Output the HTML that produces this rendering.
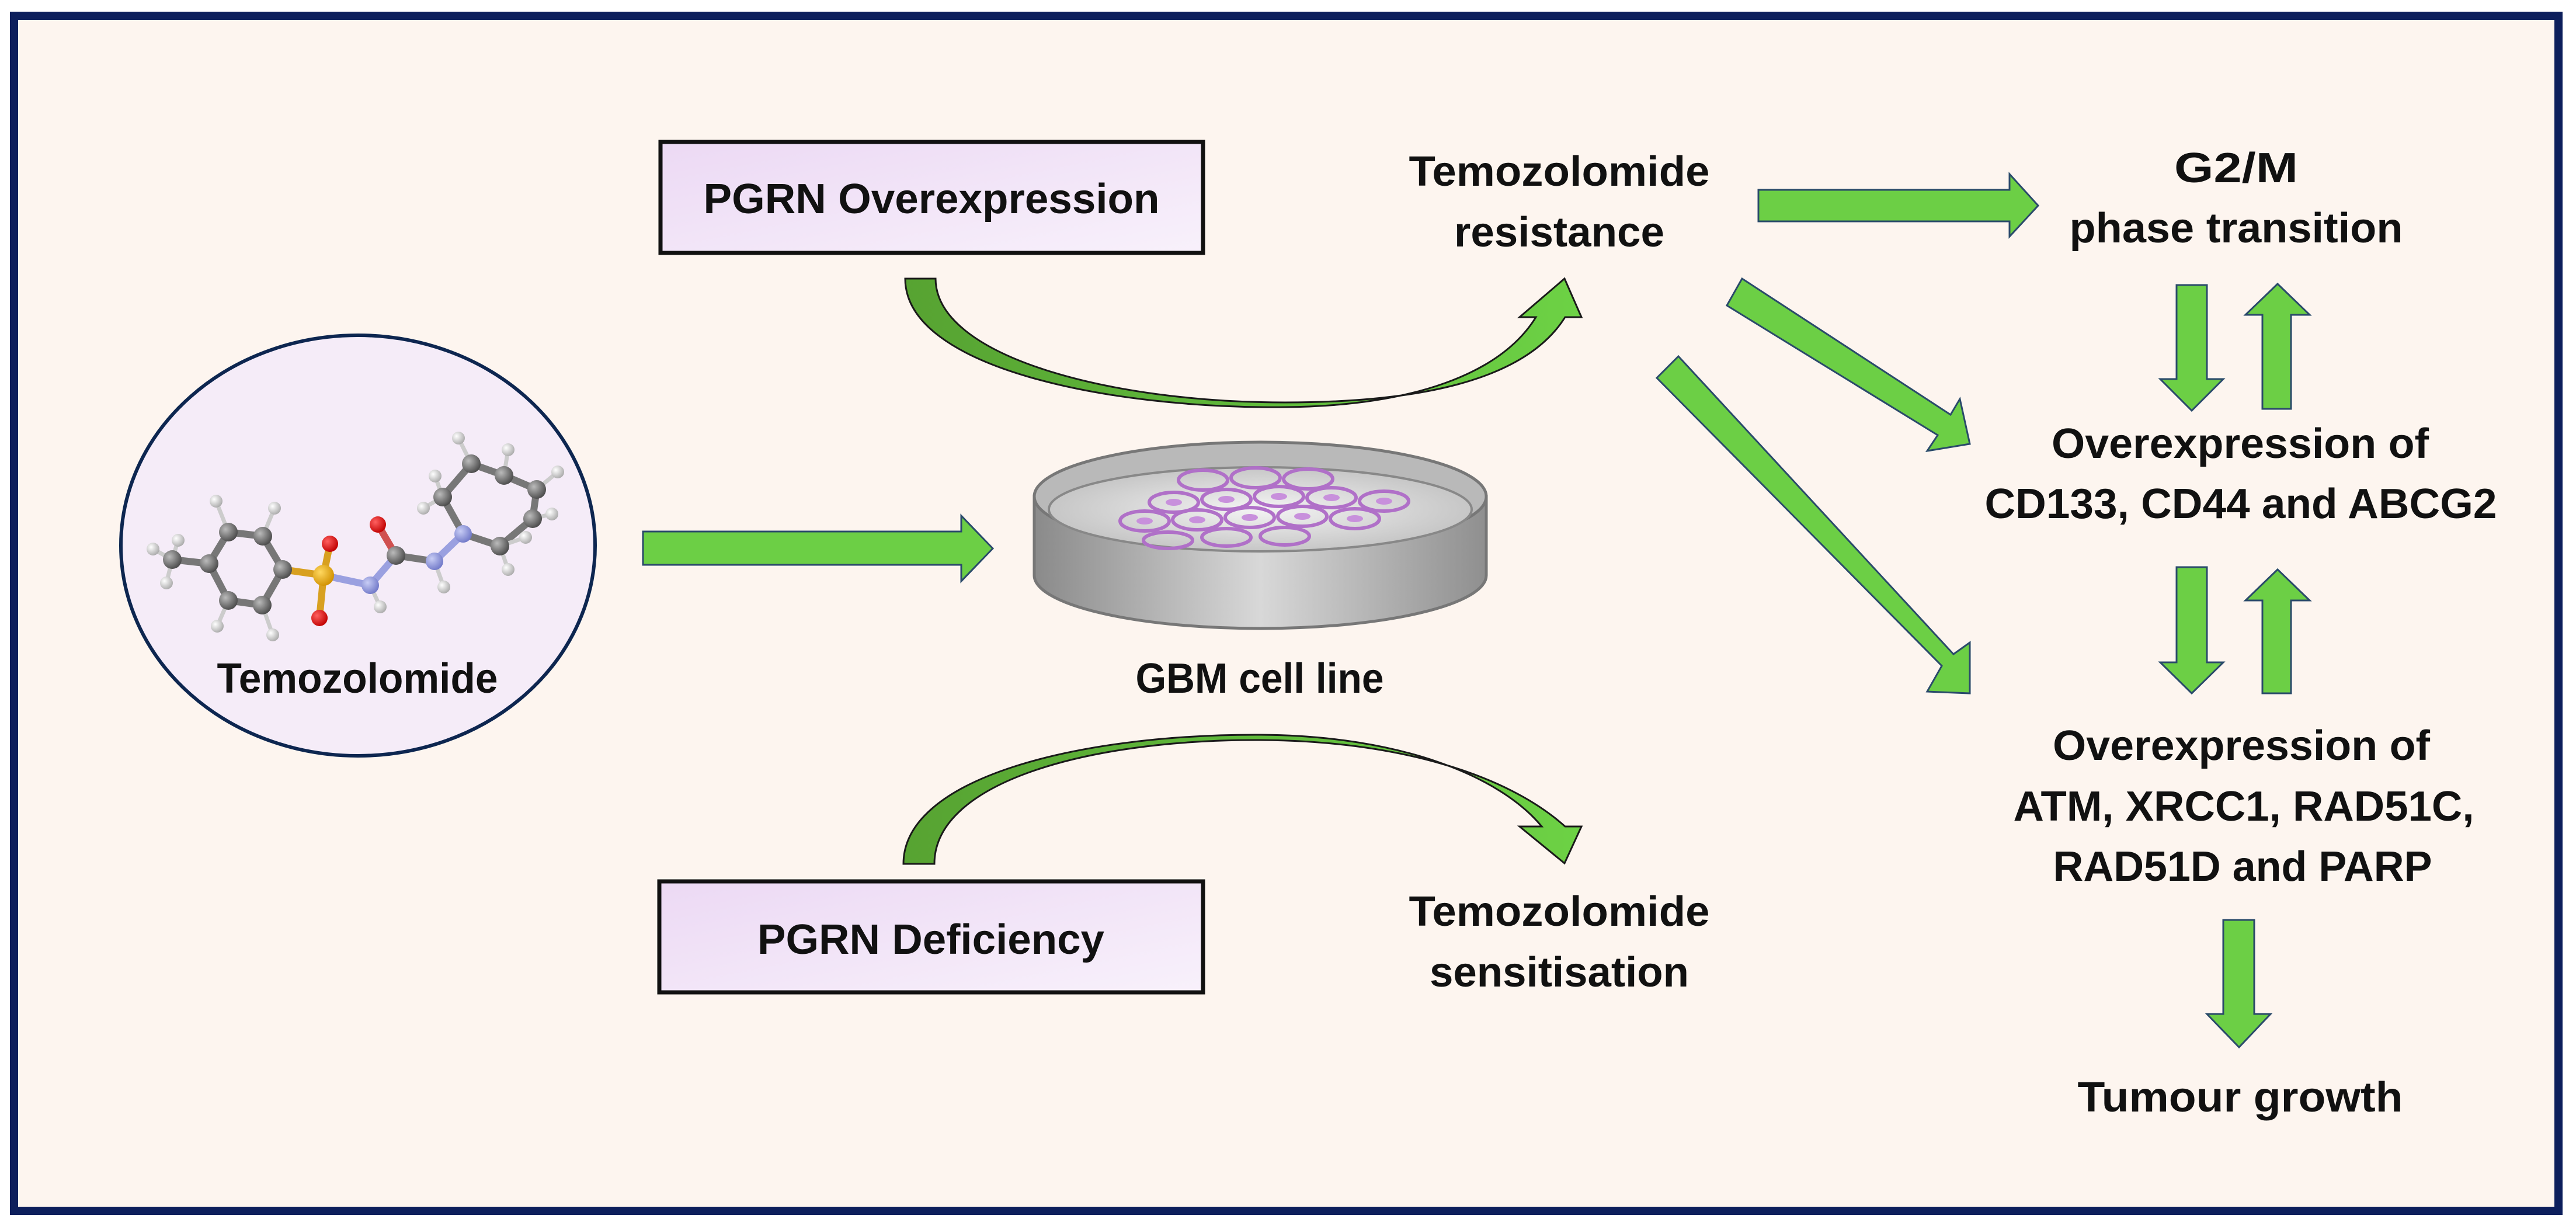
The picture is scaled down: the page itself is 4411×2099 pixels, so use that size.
<!DOCTYPE html>
<html><head><meta charset="utf-8"><style>
html,body{margin:0;padding:0;background:#fff;}
svg{display:block;}
text{font-family:"Liberation Sans",sans-serif;font-weight:bold;fill:#111;}
</style></head><body>
<svg width="4411" height="2099" viewBox="0 0 4411 2099" xmlns="http://www.w3.org/2000/svg">
<defs>
<linearGradient id="bx" x1="0" y1="0" x2="1" y2="1"><stop offset="0" stop-color="#ecd9f4"/><stop offset="1" stop-color="#f8f1fb"/></linearGradient>
<linearGradient id="cg1" x1="0" y1="0" x2="1" y2="0"><stop offset="0" stop-color="#57a332"/><stop offset="0.5" stop-color="#5fb83a"/><stop offset="1" stop-color="#6dd245"/></linearGradient>
<linearGradient id="dishSide" x1="0" y1="0" x2="1" y2="0"><stop offset="0" stop-color="#8a8a8a"/><stop offset="0.5" stop-color="#d8d8d8"/><stop offset="1" stop-color="#8f8f8f"/></linearGradient>
<radialGradient id="floor" cx="0.5" cy="0.5" r="0.6"><stop offset="0" stop-color="#f4f4f4"/><stop offset="1" stop-color="#bdbdbd"/></radialGradient>
<radialGradient id="ballC" cx="0.35" cy="0.35" r="0.7"><stop offset="0" stop-color="#bbb"/><stop offset="1" stop-color="#4a4a4a"/></radialGradient>
<radialGradient id="ballH" cx="0.35" cy="0.35" r="0.7"><stop offset="0" stop-color="#fff"/><stop offset="1" stop-color="#aaa"/></radialGradient>
<radialGradient id="ballO" cx="0.35" cy="0.35" r="0.7"><stop offset="0" stop-color="#ff6060"/><stop offset="1" stop-color="#c00000"/></radialGradient>
<radialGradient id="ballN" cx="0.35" cy="0.35" r="0.7"><stop offset="0" stop-color="#c8cdf5"/><stop offset="1" stop-color="#7078c8"/></radialGradient>
<radialGradient id="ballS" cx="0.35" cy="0.35" r="0.7"><stop offset="0" stop-color="#ffd860"/><stop offset="1" stop-color="#d09000"/></radialGradient>
</defs>
<rect x="0" y="0" width="4411" height="2099" fill="#fff"/>
<rect x="24" y="27" width="4357" height="2046" fill="#fdf5ef" stroke="#0d1f5c" stroke-width="14"/>

<!-- PGRN boxes -->
<rect x="1131" y="243" width="929" height="190" fill="url(#bx)" stroke="#111" stroke-width="7"/>
<text x="1595" y="365" font-size="72" text-anchor="middle" textLength="781" lengthAdjust="spacingAndGlyphs">PGRN Overexpression</text>
<rect x="1129" y="1509" width="931" height="190" fill="url(#bx)" stroke="#111" stroke-width="7"/>
<text x="1594" y="1633" font-size="72" text-anchor="middle" textLength="594" lengthAdjust="spacingAndGlyphs">PGRN Deficiency</text>

<!-- Temozolomide circle -->
<ellipse cx="613" cy="934" rx="406" ry="360" fill="#f5ecf8" stroke="#0d2650" stroke-width="6"/>
<g stroke-width="12" stroke-linecap="round">
<g stroke="#777">
<line x1="295" y1="958" x2="358" y2="965"/>
<line x1="358" y1="965" x2="391" y2="911"/><line x1="391" y1="911" x2="450" y2="918"/>
<line x1="450" y1="918" x2="484" y2="975"/><line x1="484" y1="975" x2="449" y2="1036"/>
<line x1="449" y1="1036" x2="391" y2="1028"/><line x1="391" y1="1028" x2="358" y2="965"/>
<line x1="678" y1="951" x2="744" y2="961"/>
<line x1="793" y1="914" x2="758" y2="851"/><line x1="758" y1="851" x2="807" y2="794"/>
<line x1="807" y1="794" x2="863" y2="814"/><line x1="863" y1="814" x2="919" y2="838"/>
<line x1="919" y1="838" x2="912" y2="888"/><line x1="912" y1="888" x2="856" y2="935"/>
<line x1="856" y1="935" x2="793" y2="914"/>
</g>
<g stroke="#ccc" stroke-width="7">
<line x1="295" y1="958" x2="262" y2="940"/><line x1="295" y1="958" x2="285" y2="998"/><line x1="295" y1="958" x2="305" y2="925"/>
<line x1="391" y1="911" x2="370" y2="858"/><line x1="450" y1="918" x2="470" y2="870"/>
<line x1="391" y1="1028" x2="372" y2="1072"/><line x1="449" y1="1036" x2="467" y2="1087"/>
<line x1="634" y1="1002" x2="651" y2="1039"/><line x1="744" y1="961" x2="760" y2="1005"/>
<line x1="758" y1="851" x2="725" y2="870"/><line x1="758" y1="851" x2="745" y2="815"/>
<line x1="807" y1="794" x2="785" y2="750"/><line x1="863" y1="814" x2="870" y2="770"/>
<line x1="919" y1="838" x2="955" y2="808"/><line x1="912" y1="888" x2="945" y2="880"/>
<line x1="856" y1="935" x2="870" y2="975"/><line x1="856" y1="935" x2="900" y2="920"/>
</g>
<line x1="484" y1="975" x2="554" y2="985" stroke="#d8a020"/>
<line x1="554" y1="985" x2="565" y2="931" stroke="#d8a020"/>
<line x1="554" y1="985" x2="547" y2="1058" stroke="#d8a020"/>
<line x1="554" y1="985" x2="634" y2="1002" stroke="#9aa0e0"/>
<line x1="634" y1="1002" x2="678" y2="951" stroke="#9aa0e0"/>
<line x1="678" y1="951" x2="647" y2="898" stroke="#d05050"/>
<line x1="744" y1="961" x2="793" y2="914" stroke="#9aa0e0"/>
</g>
<g>
<circle cx="262" cy="940" r="11" fill="url(#ballH)"/><circle cx="285" cy="998" r="11" fill="url(#ballH)"/><circle cx="305" cy="925" r="11" fill="url(#ballH)"/>
<circle cx="370" cy="858" r="11" fill="url(#ballH)"/><circle cx="470" cy="870" r="11" fill="url(#ballH)"/>
<circle cx="372" cy="1072" r="11" fill="url(#ballH)"/><circle cx="467" cy="1087" r="11" fill="url(#ballH)"/>
<circle cx="651" cy="1039" r="11" fill="url(#ballH)"/><circle cx="760" cy="1005" r="11" fill="url(#ballH)"/>
<circle cx="725" cy="870" r="11" fill="url(#ballH)"/><circle cx="745" cy="815" r="11" fill="url(#ballH)"/>
<circle cx="785" cy="750" r="11" fill="url(#ballH)"/><circle cx="870" cy="770" r="11" fill="url(#ballH)"/>
<circle cx="955" cy="808" r="11" fill="url(#ballH)"/><circle cx="945" cy="880" r="11" fill="url(#ballH)"/>
<circle cx="870" cy="975" r="11" fill="url(#ballH)"/><circle cx="900" cy="920" r="11" fill="url(#ballH)"/>
<circle cx="295" cy="958" r="16" fill="url(#ballC)"/>
<circle cx="358" cy="965" r="16" fill="url(#ballC)"/><circle cx="391" cy="911" r="16" fill="url(#ballC)"/>
<circle cx="450" cy="918" r="16" fill="url(#ballC)"/><circle cx="484" cy="975" r="16" fill="url(#ballC)"/>
<circle cx="449" cy="1036" r="16" fill="url(#ballC)"/><circle cx="391" cy="1028" r="16" fill="url(#ballC)"/>
<circle cx="554" cy="985" r="18" fill="url(#ballS)"/>
<circle cx="565" cy="931" r="14" fill="url(#ballO)"/><circle cx="547" cy="1058" r="14" fill="url(#ballO)"/>
<circle cx="634" cy="1002" r="15" fill="url(#ballN)"/><circle cx="678" cy="951" r="16" fill="url(#ballC)"/>
<circle cx="647" cy="898" r="14" fill="url(#ballO)"/>
<circle cx="744" cy="961" r="15" fill="url(#ballN)"/><circle cx="793" cy="914" r="15" fill="url(#ballN)"/>
<circle cx="758" cy="851" r="16" fill="url(#ballC)"/><circle cx="807" cy="794" r="16" fill="url(#ballC)"/>
<circle cx="863" cy="814" r="16" fill="url(#ballC)"/><circle cx="919" cy="838" r="16" fill="url(#ballC)"/>
<circle cx="912" cy="888" r="16" fill="url(#ballC)"/><circle cx="856" cy="935" r="16" fill="url(#ballC)"/>
</g>
<text x="612" y="1186" font-size="72" text-anchor="middle" textLength="481" lengthAdjust="spacingAndGlyphs">Temozolomide</text>

<!-- straight arrow to dish -->
<path d="M1101,910 L1646,910 L1646,883 L1700,939 L1646,995 L1646,967 L1101,967 Z" fill="#6ccf45" stroke="#2a4a6a" stroke-width="3"/>

<!-- petri dish -->
<path d="M1771,850 L1771,985 A387,91 0 0 0 2545,985 L2545,850 Z" fill="url(#dishSide)" stroke="#777" stroke-width="5"/>
<ellipse cx="2158" cy="850" rx="387" ry="93" fill="#b9b9b9" stroke="#777" stroke-width="5"/>
<ellipse cx="2158" cy="872" rx="362" ry="72" fill="url(#floor)" stroke="#888" stroke-width="4"/>
<g fill="none" stroke="#b070c8" stroke-width="6">
<ellipse cx="2010" cy="860" rx="42" ry="17"/><ellipse cx="2100" cy="855" rx="42" ry="17"/><ellipse cx="2190" cy="850" rx="42" ry="17"/><ellipse cx="2280" cy="852" rx="42" ry="17"/><ellipse cx="2370" cy="858" rx="42" ry="17"/>
<ellipse cx="1960" cy="892" rx="42" ry="17"/><ellipse cx="2050" cy="890" rx="42" ry="17"/><ellipse cx="2140" cy="886" rx="42" ry="17"/><ellipse cx="2230" cy="884" rx="42" ry="17"/><ellipse cx="2320" cy="888" rx="42" ry="17"/>
<ellipse cx="2060" cy="822" rx="42" ry="17"/><ellipse cx="2150" cy="818" rx="42" ry="17"/><ellipse cx="2240" cy="820" rx="42" ry="17"/>
<ellipse cx="2000" cy="925" rx="42" ry="14"/><ellipse cx="2100" cy="920" rx="42" ry="15"/><ellipse cx="2200" cy="918" rx="42" ry="15"/>
</g>
<g fill="#c890dc">
<ellipse cx="2010" cy="860" rx="14" ry="6"/><ellipse cx="2100" cy="855" rx="14" ry="6"/><ellipse cx="2190" cy="850" rx="14" ry="6"/><ellipse cx="2280" cy="852" rx="14" ry="6"/><ellipse cx="2370" cy="858" rx="14" ry="6"/>
<ellipse cx="1960" cy="892" rx="14" ry="6"/><ellipse cx="2050" cy="890" rx="14" ry="6"/><ellipse cx="2140" cy="886" rx="14" ry="6"/><ellipse cx="2230" cy="884" rx="14" ry="6"/><ellipse cx="2320" cy="888" rx="14" ry="6"/>
</g>
<text x="2157" y="1186" font-size="72" text-anchor="middle" textLength="425" lengthAdjust="spacingAndGlyphs">GBM cell line</text>

<!-- curved arrows -->
<path d="M1550,477 C1550,630 1900,700 2200,697 C2420,695 2570,640 2630,543 L2602,543 L2679,477 L2708,543 L2680,543 C2610,655 2420,689 2200,689 C1900,689 1602,610 1602,477 Z" fill="url(#cg1)" stroke="#1a1a1a" stroke-width="3"/>
<path d="M1547,1479 C1547,1330 1850,1258 2150,1258 C2400,1258 2570,1330 2640,1415 L2602,1415 L2679,1478 L2708,1415 L2680,1415 C2580,1325 2390,1267 2150,1267 C1860,1267 1600,1340 1600,1479 Z" fill="url(#cg1)" stroke="#1a1a1a" stroke-width="3"/>

<!-- middle texts -->
<text x="2670" y="318" font-size="72" text-anchor="middle" textLength="515" lengthAdjust="spacingAndGlyphs">Temozolomide</text>
<text x="2670" y="422" font-size="72" text-anchor="middle" textLength="360" lengthAdjust="spacingAndGlyphs">resistance</text>
<text x="2670" y="1585" font-size="72" text-anchor="middle" textLength="515" lengthAdjust="spacingAndGlyphs">Temozolomide</text>
<text x="2670" y="1689" font-size="72" text-anchor="middle" textLength="444" lengthAdjust="spacingAndGlyphs">sensitisation</text>

<!-- right arrows -->
<g fill="#6ccf45" stroke="#2a4a6a" stroke-width="3">
<path d="M3011,325 L3441,325 L3441,298 L3490,352 L3441,405 L3441,379 L3011,379 Z"/>
<path d="M2983,477 L3340,710 L3356,683 L3373,760 L3300,772 L3318,745 L2957,523 Z"/>
<path d="M2874,610 L3345,1120 L3373,1100 L3373,1187 L3300,1184 L3325,1140 L2837,647 Z"/>
<path d="M3727,488 L3779,488 L3779,649 L3807,649 L3753,703 L3699,649 L3727,649 Z"/>
<path d="M3874,700 L3923,700 L3923,539 L3955,539 L3900,486 L3845,539 L3874,539 Z"/>
<path d="M3727,971 L3779,971 L3779,1134 L3807,1134 L3753,1187 L3699,1134 L3727,1134 Z"/>
<path d="M3874,1187 L3923,1187 L3923,1028 L3955,1028 L3900,975 L3845,1028 L3874,1028 Z"/>
<path d="M3807,1575 L3860,1575 L3860,1736 L3888,1736 L3834,1793 L3779,1736 L3807,1736 Z"/>
</g>

<!-- right texts -->
<text x="3829" y="312" font-size="72" text-anchor="middle" textLength="212" lengthAdjust="spacingAndGlyphs">G2/M</text>
<text x="3829" y="415" font-size="72" text-anchor="middle" textLength="571" lengthAdjust="spacingAndGlyphs">phase transition</text>
<text x="3836" y="784" font-size="72" text-anchor="middle" textLength="646" lengthAdjust="spacingAndGlyphs">Overexpression of</text>
<text x="3837" y="887" font-size="72" text-anchor="middle" textLength="877" lengthAdjust="spacingAndGlyphs">CD133, CD44 and ABCG2</text>
<text x="3838" y="1301" font-size="72" text-anchor="middle" textLength="646" lengthAdjust="spacingAndGlyphs">Overexpression of</text>
<text x="3842" y="1405" font-size="72" text-anchor="middle" textLength="789" lengthAdjust="spacingAndGlyphs">ATM, XRCC1, RAD51C,</text>
<text x="3840" y="1508" font-size="72" text-anchor="middle" textLength="649" lengthAdjust="spacingAndGlyphs">RAD51D and PARP</text>
<text x="3836" y="1903" font-size="72" text-anchor="middle" textLength="557" lengthAdjust="spacingAndGlyphs">Tumour growth</text>
</svg>
</body></html>
